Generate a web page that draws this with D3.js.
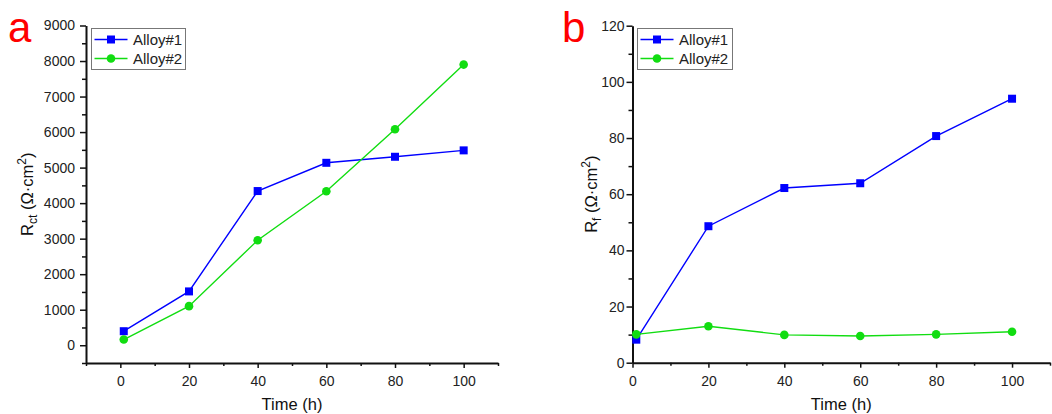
<!DOCTYPE html>
<html>
<head>
<meta charset="utf-8">
<script src="https://cdn.jsdelivr.net/npm/d3@7/dist/d3.min.js"></script>
<style>
  html, body { margin: 0; padding: 0; background: #fff; }
  svg { display: block; font-family: "Liberation Sans", Arial, sans-serif; }
</style>
</head>
<body>
<svg id="chart" width="1052" height="414"></svg>
<script>
// Immersion time (h)
const times = [1, 20, 40, 60, 80, 100];
// Charge-transfer resistance Rct (Ω·cm²)
const rctAlloy1 = [395, 1515, 4340, 5135, 5305, 5485];
const rctAlloy2 = [160, 1100, 2955, 4335, 6080, 7900];
// Film resistance Rf (Ω·cm²)
const rfAlloy1 = [8.2, 48.6, 62.2, 63.9, 80.7, 94.0];
const rfAlloy2 = [10.1, 13.0, 9.9, 9.5, 10.1, 11.0];

const seriesNames = ["Alloy#1", "Alloy#2"];
const xTicks = [0, 20, 40, 60, 80, 100];
const rctTicks = [0, 1000, 2000, 3000, 4000, 5000, 6000, 7000, 8000, 9000];
const rfTicks = [0, 20, 40, 60, 80, 100, 120];

const BLUE = "#0000ff";
const GREEN = "#11dd11";
const svg = d3.select("#chart");
const fmt = d3.format("d");

function drawPanel(p) {
  const g = svg.append("g");
  const x = d3.scaleLinear().domain(p.xDomain).range([p.left, p.right]);
  const y = d3.scaleLinear().domain(p.yDomain).range([p.bottom, p.top]);

  // panel letter
  g.append("text").attr("x", p.letterX).attr("y", 41.5)
    .attr("font-size", 42).attr("fill", "#ff0000").text(p.letter);

  // minor ticks
  const minorX = g.append("g").attr("transform", `translate(0,${p.bottom})`)
    .call(d3.axisBottom(x).tickValues(p.xMinor).tickSize(3).tickFormat(""));
  minorX.select(".domain").remove();
  const minorY = g.append("g").attr("transform", `translate(${p.left},0)`)
    .call(d3.axisLeft(y).tickValues(p.yMinor).tickSize(4).tickFormat(""));
  minorY.select(".domain").remove();

  // major axes
  const ax = g.append("g").attr("transform", `translate(0,${p.bottom})`)
    .call(d3.axisBottom(x).tickValues(xTicks).tickFormat(fmt)
      .tickSize(5).tickSizeOuter(0).tickPadding(8));
  const ay = g.append("g").attr("transform", `translate(${p.left},0)`)
    .call(d3.axisLeft(y).tickValues(p.yTicks).tickFormat(fmt)
      .tickSize(6).tickSizeOuter(0).tickPadding(p.yPad));
  [ax, ay, minorX, minorY].forEach(a => {
    a.selectAll("line").attr("stroke", "#111").attr("stroke-width", 1.5);
    a.selectAll("path.domain").attr("stroke", "#111").attr("stroke-width", 2);
    a.selectAll("text").attr("font-size", 14).attr("fill", "#222")
      .attr("font-family", "'Liberation Sans', Arial, sans-serif");
  });

  // axis titles
  g.append("text").attr("x", (p.left + p.right) / 2).attr("y", 410)
    .attr("text-anchor", "middle").attr("font-size", 16.5).attr("fill", "#111").text("Time (h)");
  const yt = g.append("text")
    .attr("transform", `translate(${p.titleX},${(p.top + p.bottom) / 2}) rotate(-90)`)
    .attr("text-anchor", "middle").attr("font-size", 16.5).attr("fill", "#111");
  yt.append("tspan").text("R");
  yt.append("tspan").attr("font-size", 12).attr("dy", 4).text(p.sub);
  yt.append("tspan").attr("dy", -4).text(" (Ω·cm");
  yt.append("tspan").attr("font-size", 12).attr("dy", -7).text("2");
  yt.append("tspan").attr("dy", 7).text(")");

  // series lines and markers
  const line = d3.line().x(d => x(d[0])).y(d => y(d[1]));
  const s1 = times.map((t, i) => [t, p.s1[i]]);
  const s2 = times.map((t, i) => [t, p.s2[i]]);
  g.append("path").datum(s1).attr("d", line).attr("fill", "none")
    .attr("stroke", BLUE).attr("stroke-width", 1.4);
  g.append("path").datum(s2).attr("d", line).attr("fill", "none")
    .attr("stroke", GREEN).attr("stroke-width", 1.4);
  g.selectAll(".sq").data(s1).join("rect")
    .attr("x", d => x(d[0]) - 4).attr("y", d => y(d[1]) - 4)
    .attr("width", 8).attr("height", 8).attr("fill", BLUE);
  g.selectAll(".ci").data(s2).join("circle")
    .attr("cx", d => x(d[0])).attr("cy", d => y(d[1])).attr("r", 4.3).attr("fill", GREEN);

  // legend
  const lg = g.append("g").attr("transform", `translate(${p.legX},28.5)`);
  lg.append("rect").attr("x", 0).attr("y", 0).attr("width", p.legW).attr("height", 41)
    .attr("fill", "#fff").attr("stroke", "#777").attr("stroke-width", 1);
  [BLUE, GREEN].forEach((c, i) => {
    const cy = 11 + i * 19;
    lg.append("line").attr("x1", 3).attr("x2", 36).attr("y1", cy).attr("y2", cy)
      .attr("stroke", c).attr("stroke-width", 1.4);
    if (i === 0) {
      lg.append("rect").attr("x", 15.5).attr("y", cy - 4).attr("width", 8).attr("height", 8).attr("fill", c);
    } else {
      lg.append("circle").attr("cx", 19.5).attr("cy", cy).attr("r", 4.3).attr("fill", c);
    }
    lg.append("text").attr("x", 41.5).attr("y", cy + 5.5).attr("font-size", 15)
      .attr("fill", "#222").text(seriesNames[i]);
  });
}

drawPanel({
  letter: "a", letterX: 8,
  xDomain: [-10, 110], yDomain: [-500, 9000],
  left: 86, right: 498, top: 25.5, bottom: 363,
  xMinor: d3.range(-10, 111, 20), yMinor: d3.range(-500, 9000, 1000),
  yTicks: rctTicks, yPad: 5, titleX: 33, sub: "ct",
  s1: rctAlloy1, s2: rctAlloy2,
  legX: 91.5, legW: 94
});

drawPanel({
  letter: "b", letterX: 562,
  xDomain: [0, 110], yDomain: [0, 120],
  left: 632.5, right: 1050, top: 25.7, bottom: 362.7,
  xMinor: d3.range(10, 111, 20), yMinor: d3.range(10, 120, 20),
  yTicks: rfTicks, yPad: 2, titleX: 597, sub: "f",
  s1: rfAlloy1, s2: rfAlloy2,
  legX: 637.5, legW: 95
});
</script>
</body>
</html>
